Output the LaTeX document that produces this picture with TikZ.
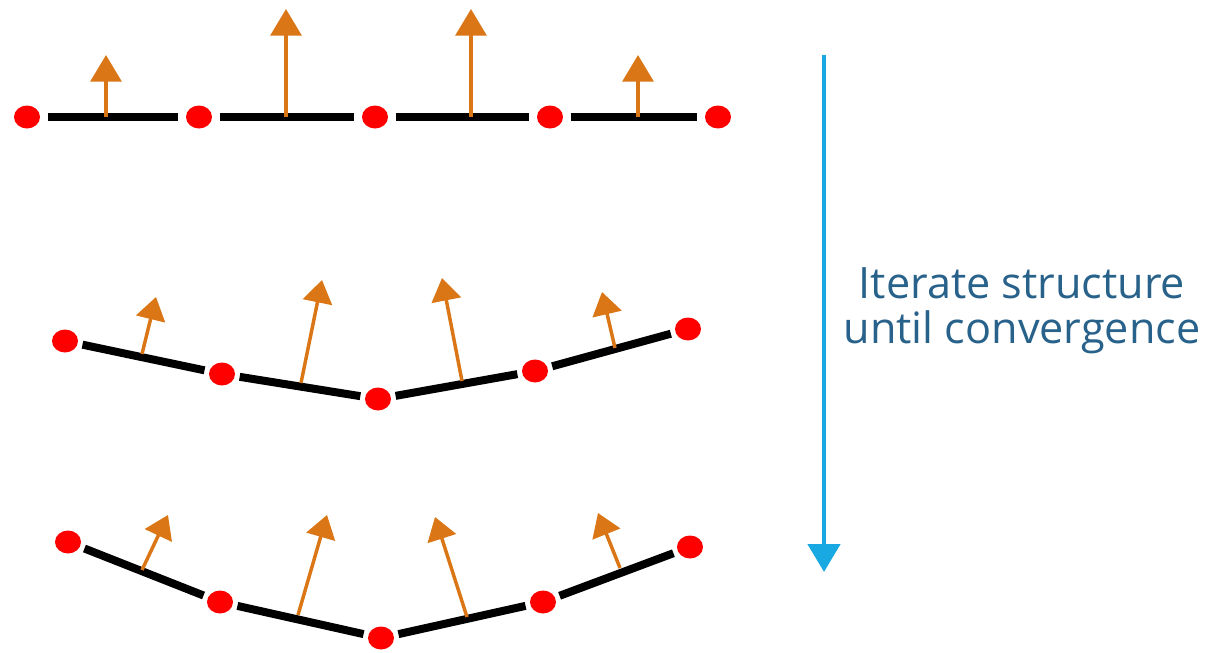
\documentclass[tikz,border=0pt]{standalone}
\usepackage{fontspec}
\setmainfont{Open Sans}
\usetikzlibrary{arrows.meta,shapes.geometric}
\definecolor{dotred}{RGB}{255,0,0}
\definecolor{forceorange}{RGB}{218,118,22}
\definecolor{iterblue}{RGB}{24,168,226}
\definecolor{labelblue}{RGB}{40,98,138}
\tikzset{
  atom/.style={ellipse, fill=dotred, draw=none, minimum width=19.5pt, minimum height=17.25pt, inner sep=0pt},
  bond/.style={line width=6pt, black, shorten <=5.5pt, shorten >=5.5pt},
  bendbond/.style={line width=6pt, black, shorten <=3.5pt, shorten >=3.5pt},
  force/.style={line width=3.3pt, forceorange, -{Triangle[length=20pt,width=23pt]}},
  forcesm/.style={line width=2.6pt, forceorange, -{Triangle[length=17pt,width=22pt]}},
  iter/.style={line width=3.6pt, iterblue, -{Triangle[length=21pt,width=24pt]}},
  caption/.style={text=labelblue, font=\fontsize{32.4}{34}\selectfont, align=center, inner sep=0pt}
}
\begin{document}
\begin{tikzpicture}[x=0.75pt,y=-0.75pt]
\useasboundingbox (0,0) rectangle (1207,653);

% ---- initial flat chain ----
\node[atom] (a1) at (27,117) {};
\node[atom] (a2) at (199,117) {};
\node[atom] (a3) at (375,117) {};
\node[atom] (a4) at (550,117) {};
\node[atom] (a5) at (718,117) {};
\draw[bond] (a1) -- (a2);
\draw[bond] (a2) -- (a3);
\draw[bond] (a3) -- (a4);
\draw[bond] (a4) -- (a5);
\coordinate (fa1) at (106,117); \coordinate (ta1) at (106,55);
\coordinate (fa2) at (286,117); \coordinate (ta2) at (286,9);
\coordinate (fa3) at (471,117); \coordinate (ta3) at (471,9);
\coordinate (fa4) at (638,117); \coordinate (ta4) at (638,55);
\draw[force] (fa1) -- (ta1);
\draw[force] (fa2) -- (ta2);
\draw[force] (fa3) -- (ta3);
\draw[force] (fa4) -- (ta4);

% ---- intermediate chain ----
\node[atom] (b1) at (65,341) {};
\node[atom] (b2) at (222,374) {};
\node[atom] (b3) at (378,399) {};
\node[atom] (b4) at (535,371) {};
\node[atom] (b5) at (688,329) {};
\draw[bendbond] (b1) -- (b2);
\draw[bendbond] (b2) -- (b3);
\draw[bendbond] (b3) -- (b4);
\draw[bendbond] (b4) -- (b5);
\coordinate (fb1) at (142,354); \coordinate (tb1) at (156,297);
\coordinate (fb2) at (301,383); \coordinate (tb2) at (322,280);
\coordinate (fb3) at (462,381); \coordinate (tb3) at (442,278);
\coordinate (fb4) at (615,348); \coordinate (tb4) at (602,292);
\draw[forcesm] (fb1) -- (tb1);
\draw[forcesm] (fb2) -- (tb2);
\draw[forcesm] (fb3) -- (tb3);
\draw[forcesm] (fb4) -- (tb4);

% ---- converged chain ----
\node[atom] (c1) at (68,542) {};
\node[atom] (c2) at (220,602) {};
\node[atom] (c3) at (381,638) {};
\node[atom] (c4) at (543,602) {};
\node[atom] (c5) at (690,547) {};
\draw[bendbond] (c1) -- (c2);
\draw[bendbond] (c2) -- (c3);
\draw[bendbond] (c3) -- (c4);
\draw[bendbond] (c4) -- (c5);
\coordinate (fc1) at (142,570); \coordinate (tc1) at (168,515);
\coordinate (fc2) at (298,615); \coordinate (tc2) at (327,515);
\coordinate (fc3) at (467,617); \coordinate (tc3) at (435,517);
\coordinate (fc4) at (620,568); \coordinate (tc4) at (598,513);
\draw[forcesm] (fc1) -- (tc1);
\draw[forcesm] (fc2) -- (tc2);
\draw[forcesm] (fc3) -- (tc3);
\draw[forcesm] (fc4) -- (tc4);

% ---- iteration arrow and label ----
\coordinate (itop) at (824,55);
\coordinate (ibot) at (824,572);
\draw[iter] (itop) -- (ibot);
\node[caption] (lbl) at (1022,311) {Iterate structure\\until convergence};
\end{tikzpicture}
\end{document}
